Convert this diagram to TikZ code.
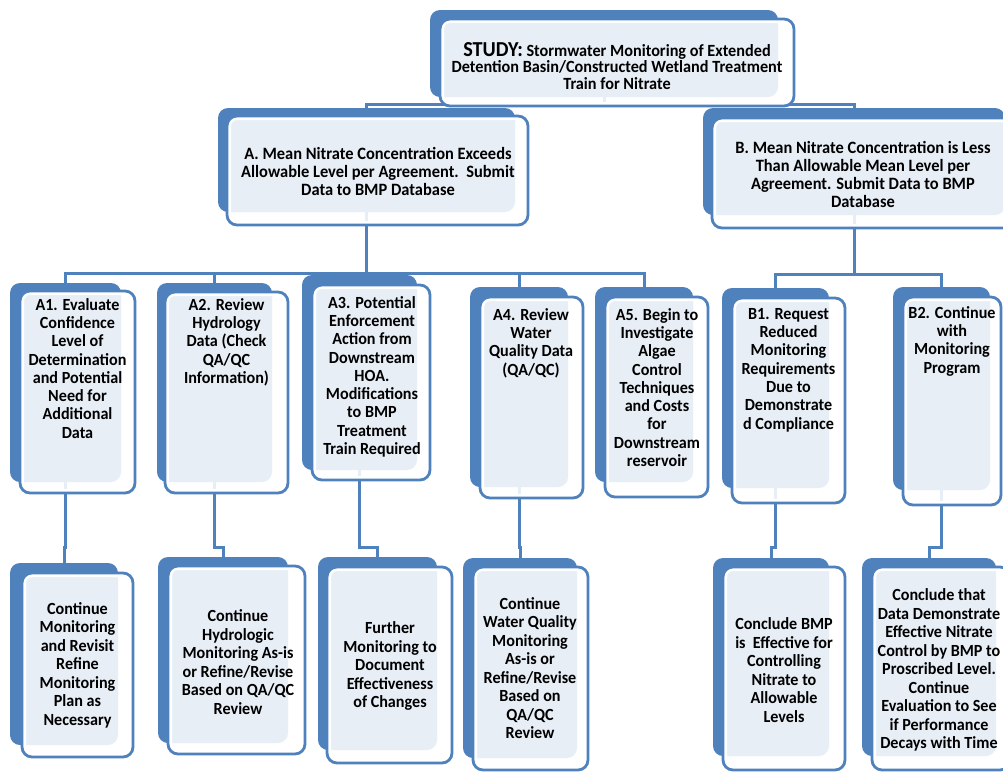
\documentclass[tikz,border=0pt]{standalone}
\usepackage{fontspec}
\setmainfont{Carlito}[FakeStretch=0.95]
\usetikzlibrary{fit}
\pgfdeclarelayer{background}
\pgfsetlayers{background,main}
\definecolor{sblue}{HTML}{4F81BD}
\tikzset{
  backbox/.style={fill=sblue, draw=none, rounded corners=10pt, inner sep=0pt},
  frontbox/.style={draw=sblue, line width=2.8pt, rounded corners=10pt, fill=white,
    fill opacity=0.87, draw opacity=1, inner sep=0pt,
    path picture={\draw[white, line width=8pt, rounded corners=10pt, draw opacity=1]
      (path picture bounding box.south west) rectangle (path picture bounding box.north east);}},
  conn/.style={draw=sblue, line width=3pt},
  ttl/.style={align=center, inner sep=0pt, font=\bfseries\fontsize{17.1}{16.7}\selectfont},
  lvla/.style={align=center, inner sep=0pt, font=\bfseries\fontsize{17.3}{18}\selectfont},
  lvlr/.style={align=center, inner sep=0pt, anchor=north, font=\bfseries\fontsize{17}{18.3}\selectfont},
  lvlc/.style={align=center, inner sep=0pt, font=\bfseries\fontsize{17}{18.5}\selectfont},
}
\newcommand\DBox[9]{%
  \node[backbox, fit={(#2,#3)(#4,#5)}] (#1b) {};
  \node[frontbox, fit={(#6,#7)(#8,#9)}] (#1) {};
}
\begin{document}
\begin{tikzpicture}[x=1pt, y=-1pt]
\useasboundingbox (0,0) rectangle (1003,772);
\clip (0,0) rectangle (1003,772);
\coordinate (busT) at (0,104);
\coordinate (busA) at (0,273);
\coordinate (busB) at (0,274);
\coordinate (jog) at (0,547);
% ---- boxes ----
\DBox{ST}{430}{10}{778}{97}{440}{19}{794}{106}
\DBox{A}{218}{108}{515}{212}{227}{116}{528}{225}
\DBox{B}{703}{108}{1005}{215}{712}{118}{1016}{228}
\DBox{A1}{10}{283}{121}{482}{20}{291}{135}{493}
\DBox{A2}{157}{283}{272}{482}{165}{292}{288}{493}
\DBox{A3}{302}{275}{417}{470}{312}{285}{430}{480}
\DBox{A4}{470}{287}{568}{487}{480}{297}{583}{498}
\DBox{A5}{595}{287}{693}{482}{605}{297}{708}{497}
\DBox{B1}{722}{288}{829}{488}{732}{298}{845}{503}
\DBox{B2}{893}{287}{990}{490}{903}{297}{1001}{505}
\DBox{C1}{10}{563}{118}{745}{22}{573}{133}{757}
\DBox{C2}{158}{557}{288}{743}{168}{566}{305}{754}
\DBox{C3}{318}{557}{437}{750}{327}{567}{452}{763}
\DBox{C4}{463}{558}{577}{758}{473}{567}{588}{770}
\DBox{C5}{713}{558}{829}{756}{723}{567}{845}{770}
\DBox{C6}{862}{558}{996}{756}{872}{567}{1010}{770}
% ---- connectors (behind boxes) ----
\begin{pgfonlayer}{background}
\draw[conn] (STb.south) -- (STb.south |- busT);
\draw[conn] (Ab.north) -- (Ab.north |- busT) -- (Bb.north |- busT) -- (Bb.north);
\draw[conn] (Ab.south) -- (Ab.south |- busA);
\draw[conn] (A1b.north) -- (A1b.north |- busA) -- (A5b.north |- busA) -- (A5b.north);
\draw[conn] (A2b.north) -- (A2b.north |- busA);
\draw[conn] (A3b.north) -- (A3b.north |- busA);
\draw[conn] (A4b.north) -- (A4b.north |- busA);
\draw[conn] (Bb.south) -- (Bb.south |- busB);
\draw[conn] (B1b.north) -- (B1b.north |- busB) -- (B2b.north |- busB) -- (B2b.north);
\draw[conn] (A1b.south) -- (A1b.south |- jog) -| (C1b.north);
\draw[conn] (A2b.south) -- (A2b.south |- jog) -| (C2b.north);
\draw[conn] (A3b.south) -- (A3b.south |- jog) -| (C3b.north);
\draw[conn] (A4b.south) -- (A4b.south |- jog) -| (C4b.north);
\draw[conn] (B1b.south) -- (B1b.south |- jog) -| (C5b.north);
\draw[conn] (B2b.south) -- (B2b.south |- jog) -| (C6b.north);
\end{pgfonlayer}
% ---- texts ----
\node[ttl] (STt) at (617,66) {{\fontsize{21.3}{16.7}\selectfont STUDY:} Stormwater Monitoring of Extended\\Detention Basin/Constructed Wetland Treatment\\Train for Nitrate};
\node[lvla] (At) at (378,171) {A. Mean Nitrate Concentration Exceeds\\Allowable Level per Agreement.\ \ Submit\\Data to BMP Database};
\node[lvla] (Bt) at (863,174) {B. Mean Nitrate Concentration is Less\\Than Allowable Mean Level per\\Agreement. Submit Data to BMP\\Database};
\node[lvlr] (A1t) at (77.5,298) {A1. Evaluate\\Confidence\\Level of\\Determination\\and Potential\\Need for\\Additional\\Data};
\node[lvlr] (A2t) at (226.5,298) {A2. Review\\Hydrology\\Data (Check\\QA/QC\\Information)};
\node[lvlr] (A3t) at (372,296) {A3. Potential\\Enforcement\\Action from\\Downstream\\HOA.\\Modifications\\to BMP\\Treatment\\Train Required};
\node[lvlr] (A4t) at (531,308) {A4. Review\\Water\\Quality Data\\(QA/QC)};
\node[lvlr] (A5t) at (657,308) {A5. Begin to\\Investigate\\Algae\\Control\\Techniques\\and Costs\\for\\Downstream\\reservoir};
\node[lvlr] (B1t) at (788.5,308) {B1. Request\\Reduced\\Monitoring\\Requirements\\Due to\\Demonstrate\\d Compliance};
\node[lvlr] (B2t) at (952,306) {B2. Continue\\with\\Monitoring\\Program};
\node[lvlc] (C1t) at (77.5,665) {Continue\\Monitoring\\and Revisit\\Refine\\Monitoring\\Plan as\\Necessary};
\node[lvlc] (C2t) at (238,662) {Continue\\Hydrologic\\Monitoring As-is\\or Refine/Revise\\Based on QA/QC\\Review};
\node[lvlc] (C3t) at (390,666) {Further\\Monitoring to\\Document\\Effectiveness\\of Changes};
\node[lvlc] (C4t) at (530,668) {Continue\\Water Quality\\Monitoring\\As-is or\\Refine/Revise\\Based on\\QA/QC\\Review};
\node[lvlc] (C5t) at (784,670) {Conclude BMP\\is\ \ Effective for\\Controlling\\Nitrate to\\Allowable\\Levels};
\node[lvlc] (C6t) at (939,670) {Conclude that\\Data Demonstrate\\Effective Nitrate\\Control by BMP to\\Proscribed Level.\\Continue\\Evaluation to See\\if Performance\\Decays with Time};
\end{tikzpicture}
\end{document}
